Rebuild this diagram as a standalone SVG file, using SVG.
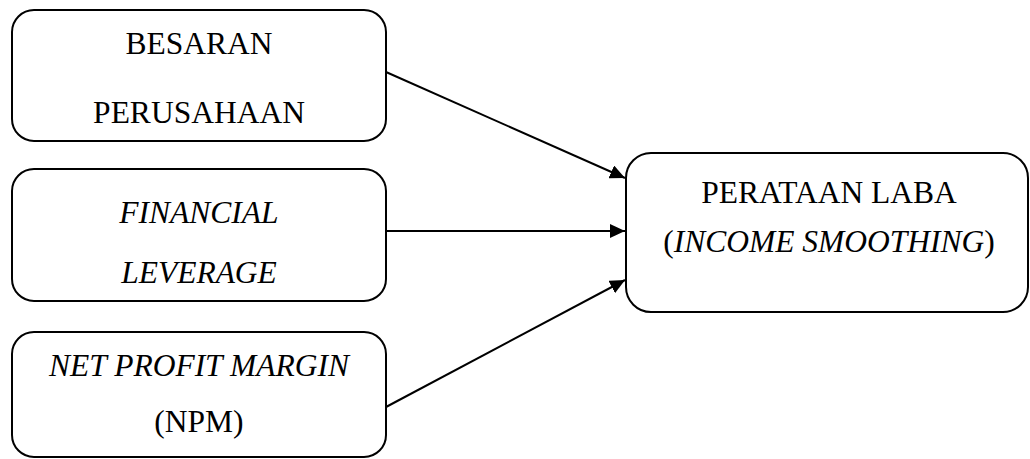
<svg xmlns="http://www.w3.org/2000/svg" width="1030" height="459" viewBox="0 0 1030 459">
<style>
.box{fill:#fff;stroke:#000;stroke-width:2}
.t{font-family:'Liberation Serif','Times New Roman',serif;font-size:31.5px;fill:#000;text-anchor:middle}
.i{font-style:italic}
.c{stroke:#000;stroke-width:2;fill:none}
</style>
<defs>
<marker id="ah" markerWidth="15" markerHeight="14" refX="15" refY="7" orient="auto" markerUnits="userSpaceOnUse">
<path d="M0,0 L15,7 L0,14 Z" fill="#000"/>
</marker>
</defs>
<rect width="1030" height="459" fill="#fff"/>
<g id="connectors">
<line class="c" x1="386" y1="72" x2="625" y2="178" marker-end="url(#ah)"/>
<line class="c" x1="386" y1="231" x2="625" y2="231" marker-end="url(#ah)"/>
<line class="c" x1="386" y1="407" x2="625" y2="280" marker-end="url(#ah)"/>
</g>
<g id="besaran">
<rect class="box" x="12" y="10" width="374" height="131" rx="22"/>
<text class="t" x="199" y="54">BESARAN</text>
<text class="t" x="199" y="123">PERUSAHAAN</text>
</g>
<g id="financial">
<rect class="box" x="12" y="169" width="374" height="132" rx="22"/>
<text class="t i" x="199" y="223">FINANCIAL</text>
<text class="t i" x="199" y="283">LEVERAGE</text>
</g>
<g id="npm">
<rect class="box" x="12" y="332" width="374" height="125" rx="22"/>
<text class="t i" x="199" y="376">NET PROFIT MARGIN</text>
<text class="t" x="199" y="432">(NPM)</text>
</g>
<g id="perataan">
<rect class="box" x="626" y="153" width="402" height="159" rx="25"/>
<text class="t" x="829" y="203">PERATAAN LABA</text>
<text class="t" x="829" y="252">(<tspan class="i">INCOME SMOOTHING</tspan>)</text>
</g>
</svg>
